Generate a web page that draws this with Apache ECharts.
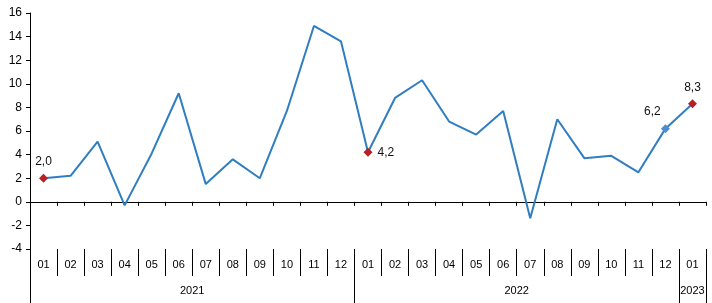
<!DOCTYPE html>
<html><head><meta charset="utf-8">
<script src="https://cdn.jsdelivr.net/npm/echarts@6/dist/echarts.min.js"></script>
<style>html,body{margin:0;padding:0;background:#fff}#c{width:712px;height:303px}</style>
</head><body><div id="c"></div>
<script>
var months = ['01','02','03','04','05','06','07','08','09','10','11','12',
              '01','02','03','04','05','06','07','08','09','10','11','12','01'];
var years = ['2021','2022','2023'];
var yearCounts = [12, 12, 1];
var values = [2.0, 2.2, 5.1, -0.3, 4.1, 9.2, 1.5, 3.6, 2.0, 7.7, 14.9, 13.6,
              4.2, 8.8, 10.3, 6.8, 5.7, 7.7, -1.4, 7.0, 3.7, 3.9, 2.5, 6.2, 8.3];
var yTicks = {min: -4, max: 16, step: 2};
var redMarks = [0, 12, 24];
var blueMarks = [23];

var FONT = '"Liberation Sans", Arial, sans-serif';
var yearCenters = [], yearBounds = [0], acc = 0;
yearCounts.forEach(function (n) { yearCenters.push(acc + n / 2); acc += n; yearBounds.push(acc); });

var labelCfg = {
  0: {position: 'top', distance: 6},
  12: {position: 'right', distance: 5},
  23: {position: 'top', offset: [-13, -1], distance: 5},
  24: {position: 'top', distance: 6}
};
var seriesData = values.map(function (v, i) {
  var isRed = redMarks.indexOf(i) >= 0, isBlue = blueMarks.indexOf(i) >= 0;
  if (!isRed && !isBlue) return {value: v, symbol: 'none'};
  var lc = labelCfg[i] || {position: 'top'};
  return {
    value: v, symbol: 'diamond', symbolSize: 9,
    itemStyle: {color: isRed ? '#B81F24' : '#4A8FD0'},
    label: Object.assign({show: true, color: '#111', fontFamily: FONT, fontSize: 12,
      formatter: function (p) { return p.value.toFixed(1).replace('.', ','); }}, lc)
  };
});

var chart = echarts.init(document.getElementById('c'), null, {renderer: 'canvas'});
chart.setOption({
  animation: false,
  backgroundColor: '#fff',
  grid: {left: 30, right: 6, top: 13, bottom: 54, containLabel: false},
  xAxis: [
    {type: 'category', data: months, position: 'bottom', boundaryGap: true,
     axisLine: {onZero: true, lineStyle: {color: '#000', width: 1}},
     axisTick: {show: true, length: 4, lineStyle: {color: '#000'}},
     axisLabel: {show: false}, splitLine: {show: false}},
    {type: 'category', data: months, position: 'bottom', boundaryGap: true,
     axisLine: {show: false, onZero: false},
     axisTick: {show: true, length: 27, lineStyle: {color: '#000'}},
     axisLabel: {show: true, interval: 0, margin: 10, color: '#000', fontFamily: FONT, fontSize: 11},
     splitLine: {show: false}},
    {type: 'value', min: 0, max: months.length, position: 'bottom',
     axisLine: {show: false, onZero: false},
     axisTick: {show: true, length: 54, customValues: yearBounds, lineStyle: {color: '#000'}},
     axisLabel: {show: true, customValues: yearCenters, margin: 36, color: '#000', fontFamily: FONT, fontSize: 11,
       formatter: function (v) { var k = yearCenters.indexOf(v); return k >= 0 ? years[k] : ''; }},
     splitLine: {show: false}}
  ],
  yAxis: {type: 'value', min: yTicks.min, max: yTicks.max, interval: yTicks.step,
    axisLine: {show: true, lineStyle: {color: '#000'}},
    axisTick: {show: true, length: 4, lineStyle: {color: '#000'}},
    axisLabel: {color: '#000', fontFamily: FONT, fontSize: 12, margin: 8},
    splitLine: {show: false}},
  series: [{
    type: 'line', xAxisIndex: 0, data: seriesData, smooth: false,
    lineStyle: {color: '#2F7EC1', width: 2},
    itemStyle: {color: '#2F7EC1'},
    z: 3
  }]
});
</script></body></html>
